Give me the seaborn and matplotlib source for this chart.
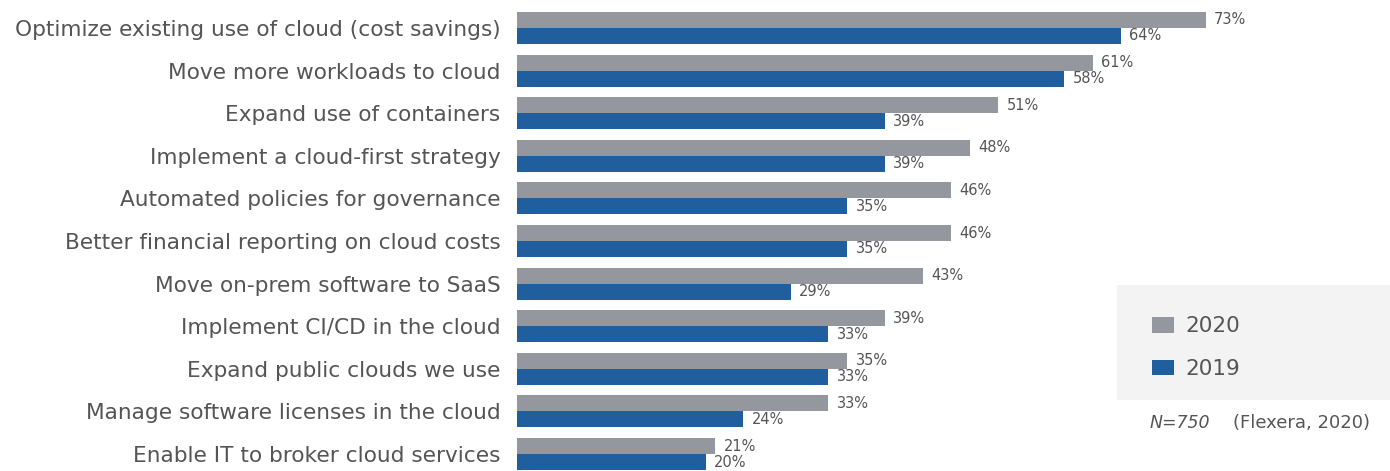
import matplotlib
matplotlib.use("Agg")
import matplotlib.pyplot as plt
from matplotlib.patches import Rectangle, Patch
import seaborn as sns
import pandas as pd

categories = [
    "Optimize existing use of cloud (cost savings)",
    "Move more workloads to cloud",
    "Expand use of containers",
    "Implement a cloud-first strategy",
    "Automated policies for governance",
    "Better financial reporting on cloud costs",
    "Move on-prem software to SaaS",
    "Implement CI/CD in the cloud",
    "Expand public clouds we use",
    "Manage software licenses in the cloud",
    "Enable IT to broker cloud services",
]
values_2020 = [73, 61, 51, 48, 46, 46, 43, 39, 35, 33, 21]
values_2019 = [64, 58, 39, 39, 35, 35, 29, 33, 33, 24, 20]
years = ["2020", "2019"]

GRAY = "#94979d"
BLUE = "#215e9e"
TEXT = "#555555"

df = pd.DataFrame({
    "category": categories * 2,
    "value": values_2020 + values_2019,
    "year": ["2020"] * len(categories) + ["2019"] * len(categories),
})

sns.set_theme(style="white")
plt.rcParams["font.family"] = ["DejaVu Sans"]

fig = plt.figure(figsize=(13.9, 4.71), dpi=100)
ax = fig.add_axes([517 / 1390, 1 / 471, (1385 - 517) / 1390, (470 - 12) / 471])

sns.barplot(data=df, y="category", x="value", hue="year", hue_order=years,
            order=categories, palette=[GRAY, BLUE], width=0.75, gap=0,
            saturation=1, orient="h", ax=ax, legend=False, linewidth=0)

ax.set_xlim(0, 92)
ax.set_ylim(len(categories) - 0.625, -0.375)
ax.set_xlabel("")
ax.set_ylabel("")
ax.set_xticks([])
for s in ax.spines.values():
    s.set_visible(False)
ax.tick_params(axis="y", length=0, pad=12, labelsize=15.6, labelcolor=TEXT)

for container in ax.containers:
    ax.bar_label(container, fmt="%d%%", padding=6, fontsize=10.5, color=TEXT)

# legend panel
fig.patches.append(Rectangle((1117 / 1390, 1 - 400 / 471), (1390 - 1117) / 1390,
                             115 / 471, transform=fig.transFigure,
                             facecolor="#f3f3f3", edgecolor="none", zorder=0))
handles = [Patch(facecolor=GRAY, edgecolor="none"), Patch(facecolor=BLUE, edgecolor="none")]
fig.legend(handles, years, loc="upper left",
           bbox_to_anchor=(1133 / 1390, 1 - 297 / 471), frameon=False,
           fontsize=15.5, labelcolor=TEXT, handlelength=1.0, handleheight=0.75,
           labelspacing=1.05, handletextpad=0.55)

fig.text(1150 / 1390, 1 - 423 / 471, "N=750", fontsize=12.5, style="italic",
         color=TEXT, va="center")
fig.text(1233 / 1390, 1 - 423 / 471, "(Flexera, 2020)", fontsize=13,
         color=TEXT, va="center")

fig.savefig("out.png", dpi=100)
